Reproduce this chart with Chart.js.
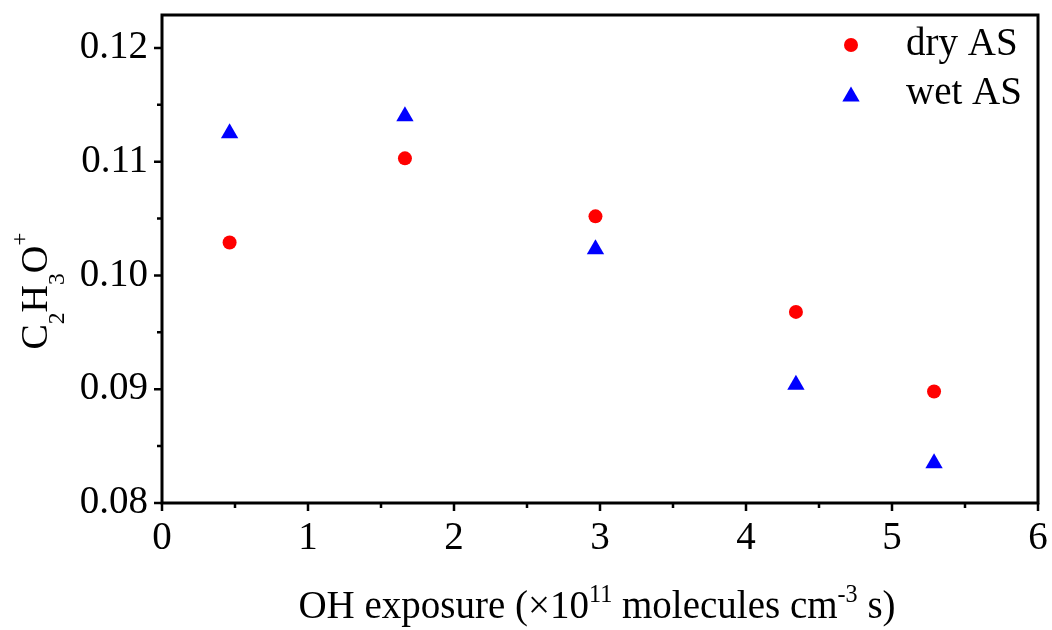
<!DOCTYPE html>
<html>
<head>
<meta charset="utf-8">
<title>C2H3O+ vs OH exposure</title>
<script src="https://cdn.jsdelivr.net/npm/chart.js"></script>
<style>
  html, body { margin: 0; padding: 0; background: #fff; }
  #wrap { width: 1052px; height: 630px; }
</style>
</head>
<body>
<div id="wrap"><canvas id="ohChart" width="1052" height="630"></canvas></div>
<script>
// data
const exposure = [0.463, 1.664, 2.969, 4.342, 5.288];
const dryAS = [0.1029, 0.1103, 0.1052, 0.0968, 0.0898];
const wetAS = [0.1125, 0.1140, 0.1023, 0.0904, 0.0835];
const xTicks = [0, 1, 2, 3, 4, 5, 6];
const yTicks = [0.08, 0.09, 0.10, 0.11, 0.12];
const seriesNames = ['dry AS', 'wet AS'];

const FONT = '"Liberation Serif", "Times New Roman", serif';
const LINE_W = 3;

// draws a run of text with sub/superscripts, centred on (0,0) baseline
function drawRich(ctx, parts, size) {
    let total = 0;
    parts.forEach(p => {
        const s = p.small ? size * 0.62 : size;
        ctx.font = s + 'px ' + FONT;
        p.w = ctx.measureText(p.t).width;
        total += p.w;
    });
    let x = -total / 2;
    ctx.textBaseline = 'alphabetic';
    ctx.textAlign = 'left';
    parts.forEach(p => {
        const s = p.small ? size * 0.62 : size;
        ctx.font = s + 'px ' + FONT;
        ctx.fillText(p.t, x, p.dy || 0);
        x += p.w;
    });
}

const framePlugin = {
    id: 'frame',
    afterDraw(chart) {
        const ctx = chart.ctx;
        const area = chart.chartArea;
        const xs = chart.scales.x;
        const ys = chart.scales.y;
        ctx.save();
        ctx.strokeStyle = '#000';
        ctx.fillStyle = '#000';

        // box
        ctx.lineWidth = LINE_W;
        ctx.strokeRect(area.left, area.top, area.right - area.left, area.bottom - area.top);

        // outward ticks, major and minor
        ctx.lineWidth = 2.5;
        ctx.beginPath();
        for (let v = 0; v <= 6.001; v += 0.5) {
            const px = xs.getPixelForValue(v);
            const len = Math.abs(v - Math.round(v)) < 1e-6 ? 8 : 5;
            ctx.moveTo(px, area.bottom);
            ctx.lineTo(px, area.bottom + len);
        }
        for (let v = 0.08; v <= 0.1201; v += 0.005) {
            const py = ys.getPixelForValue(v);
            const major = Math.abs(v * 100 - Math.round(v * 100)) < 1e-6;
            ctx.moveTo(area.left, py);
            ctx.lineTo(area.left - (major ? 8 : 5), py);
        }
        ctx.stroke();

        // x axis title
        ctx.save();
        ctx.translate(597, 618);
        drawRich(ctx, [
            { t: 'OH exposure (\u00d710' },
            { t: '11', small: true, dy: -16 },
            { t: ' molecules cm' },
            { t: '-3', small: true, dy: -16 },
            { t: ' s)' }
        ], 39);
        ctx.restore();

        // y axis title
        ctx.save();
        ctx.translate(47, 291);
        ctx.rotate(-Math.PI / 2);
        drawRich(ctx, [
            { t: 'C' },
            { t: '2', small: true, dy: 17 },
            { t: 'H' },
            { t: '3', small: true, dy: 17 },
            { t: 'O' },
            { t: '+', small: true, dy: -20 }
        ], 38);
        ctx.restore();

        // legend inside the plot
        const legendY = [45, 94];
        chart.data.datasets.forEach((ds, i) => {
            ctx.fillStyle = ds.backgroundColor;
            Chart.helpers.drawPoint(ctx, {
                pointStyle: ds.pointStyle,
                radius: ds.pointRadius,
                rotation: 0,
                borderWidth: 0
            }, 851, legendY[i] + (ds.pointStyle === 'triangle' ? 2.5 : 0));
            ctx.fillStyle = '#000';
            ctx.font = '39px ' + FONT;
            ctx.textAlign = 'left';
            ctx.textBaseline = 'middle';
            ctx.fillText(seriesNames[i], 906, legendY[i]);
        });
        ctx.restore();
    }
};

const ctx = document.getElementById('ohChart');
const ohChart = new Chart(ctx.getContext('2d'), {
    type: 'scatter',
    data: {
        datasets: [{
            label: seriesNames[0],
            data: exposure.map((x, i) => ({ x: x, y: dryAS[i] })),
            pointStyle: 'circle',
            pointRadius: 7,
            backgroundColor: '#ff0000',
            borderWidth: 0
        }, {
            label: seriesNames[1],
            data: exposure.map((x, i) => ({ x: x, y: wetAS[i] })),
            pointStyle: 'triangle',
            pointRadius: 10,
            backgroundColor: '#0000ff',
            borderWidth: 0
        }]
    },
    options: {
        responsive: false,
        animation: false,
        layout: { padding: { top: 15, right: 14, left: 0, bottom: 0 } },
        plugins: {
            legend: { display: false },
            tooltip: { enabled: false }
        },
        scales: {
            x: {
                type: 'linear',
                min: 0,
                max: 6,
                afterBuildTicks: s => { s.ticks = xTicks.map(v => ({ value: v })); },
                afterFit: s => { s.height = 127; s.paddingLeft = 0; s.paddingRight = 0; },
                grid: { display: false, drawTicks: false },
                border: { display: false },
                ticks: {
                    padding: 12,
                    color: '#000',
                    font: { family: FONT, size: 39 },
                    maxRotation: 0,
                    callback: v => String(v)
                }
            },
            y: {
                type: 'linear',
                min: 0.08,
                max: 0.1229,
                afterBuildTicks: s => { s.ticks = yTicks.map(v => ({ value: v })); },
                afterFit: s => { s.width = 162; s.paddingTop = 0; s.paddingBottom = 0; },
                grid: { display: false, drawTicks: false },
                border: { display: false },
                ticks: {
                    padding: 14,
                    color: '#000',
                    font: { family: FONT, size: 39 },
                    callback: v => Number(v).toFixed(2)
                }
            }
        }
    },
    plugins: [framePlugin]
});
</script>
</body>
</html>
